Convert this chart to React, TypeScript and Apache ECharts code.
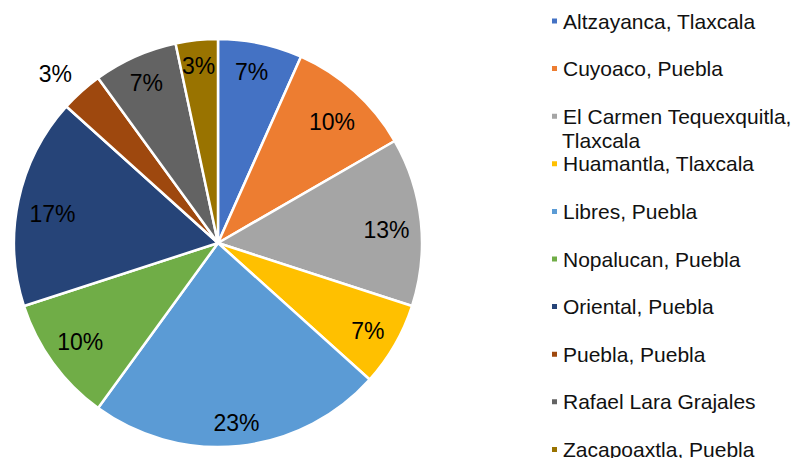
import React, { useEffect, useRef } from "react";
import * as echarts from "echarts";

const categories = [
  "Altzayanca, Tlaxcala",
  "Cuyoaco, Puebla",
  "El Carmen Tequexquitla, Tlaxcala",
  "Huamantla, Tlaxcala",
  "Libres, Puebla",
  "Nopalucan, Puebla",
  "Oriental, Puebla",
  "Puebla, Puebla",
  "Rafael Lara Grajales",
  "Zacapoaxtla, Puebla",
];
const counts = [2, 3, 4, 2, 7, 3, 5, 1, 2, 1];
const colors = [
  "#4472C4",
  "#ED7D31",
  "#A5A5A5",
  "#FFC000",
  "#5B9BD5",
  "#70AD47",
  "#264478",
  "#9E480E",
  "#636363",
  "#997300",
];
const outsideLabelName = "Puebla, Puebla";

const FONT = "'Liberation Sans', Arial, sans-serif";

export default function App() {
  const ref = useRef<HTMLDivElement>(null);
  useEffect(() => {
    if (!ref.current) return;
    const chart = echarts.init(ref.current, undefined, { renderer: "svg" });
    const cx = 218;
    const cy = 243;
    const R = 204;
    const pctFmt = (p: any) => Math.round(p.percent) + "%";
    // small label nudges to mimic the reference's label placement
    const labelNudge: Record<string, number[]> = {
      "Altzayanca, Tlaxcala": [-3, 2],
      "Cuyoaco, Puebla": [-4, 10],
      "El Carmen Tequexquitla, Tlaxcala": [-7, 5],
      "Huamantla, Tlaxcala": [-3, 0],
      "Libres, Puebla": [0, 5],
      "Nopalucan, Puebla": [5, -5],
      "Oriental, Puebla": [7, 8],
      "Rafael Lara Grajales": [0, 1],
      "Zacapoaxtla, Puebla": [-1, -2],
    };
    const data = categories.map((name, i) => ({
      name,
      value: counts[i],
      itemStyle: { color: colors[i] },
    }));
    const legendSpacing = 47.6;
    const legendFirst = 21;
    const option: any = {
      animation: false,
      color: colors,
      textStyle: { fontFamily: FONT },
      legend: categories.map((name, i) => ({
        data: [name],
        left: 550,
        top: legendFirst + i * legendSpacing - 10.5,
        padding: 0,
        itemGap: 0,
        icon: "rect",
        itemWidth: 7,
        itemHeight: 7,
        selectedMode: false,
        formatter: (n: string) =>
          n === "El Carmen Tequexquitla, Tlaxcala" ? "El Carmen Tequexquitla," : n,
        textStyle: { fontSize: 21, lineHeight: 21, color: "#111", fontFamily: FONT },
      })),
      graphic: [
        {
          type: "text",
          x: 562,
          y: legendFirst + 2 * legendSpacing + 24,
          style: {
            text: "Tlaxcala",
            fontSize: 21,
            fontFamily: FONT,
            fill: "#111",
            verticalAlign: "middle",
          },
        },
      ],
      series: [
        {
          type: "pie",
          center: [cx, cy],
          radius: R,
          startAngle: 90,
          clockwise: true,
          silent: true,
          label: { show: false },
          labelLine: { show: false },
          itemStyle: { borderColor: "#fff", borderWidth: 2.5 },
          emphasis: { disabled: true },
          data,
        },
        {
          type: "pie",
          center: [cx, cy],
          radius: [R * 0.7, R],
          startAngle: 90,
          clockwise: true,
          silent: true,
          itemStyle: { color: "transparent" },
          labelLine: { show: false },
          emphasis: { disabled: true },
          label: {
            show: true,
            position: "inside",
            formatter: pctFmt,
            fontSize: 23,
            color: "#000",
            fontFamily: FONT,
          },
          data: categories.map((name, i) => ({
            name,
            value: counts[i],
            label: {
              show: name !== outsideLabelName,
              offset: labelNudge[name] || [0, 0],
            },
          })),
        },
        {
          type: "pie",
          center: [cx, cy],
          radius: [R, R * 1.28],
          startAngle: 90,
          clockwise: true,
          silent: true,
          itemStyle: { color: "transparent" },
          labelLine: { show: false },
          emphasis: { disabled: true },
          label: {
            show: true,
            position: "inside",
            formatter: pctFmt,
            fontSize: 23,
            color: "#000",
            fontFamily: FONT,
            offset: [-5, 6],
          },
          data: categories.map((name, i) => ({
            name,
            value: counts[i],
            label: { show: name === outsideLabelName },
          })),
        },
      ],
    };
    chart.setOption(option);
    return () => chart.dispose();
  }, []);
  return (
    <div
      ref={ref}
      style={{ position: "absolute", left: 0, top: 0, width: 798, height: 458, background: "#fff" }}
    />
  );
}
